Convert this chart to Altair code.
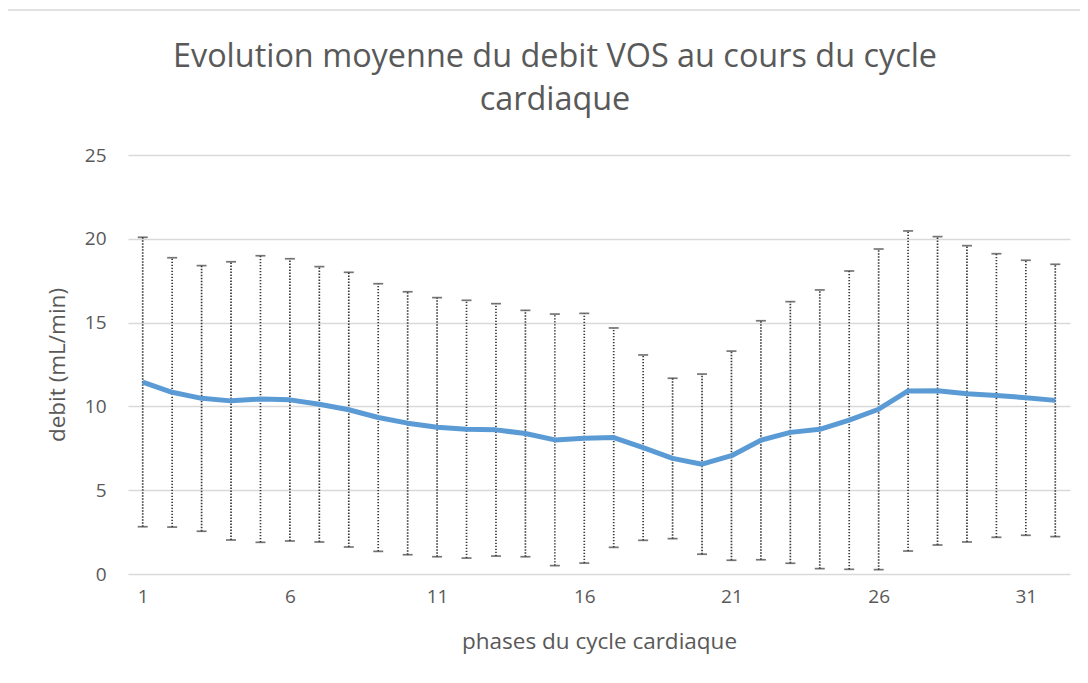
import altair as alt
import pandas as pd

phases = list(range(1, 33))
mean_flow = [11.45, 10.84, 10.48, 10.33, 10.44, 10.39, 10.13, 9.80, 9.34, 9.00,
             8.76, 8.64, 8.60, 8.38, 8.00, 8.10, 8.14, 7.54, 6.90, 6.55,
             7.06, 7.98, 8.45, 8.63, 9.18, 9.83, 10.92, 10.93, 10.75, 10.65,
             10.52, 10.36]
upper = [20.09, 18.87, 18.40, 18.63, 18.99, 18.81, 18.34, 18.00, 17.32, 16.84,
         16.49, 16.33, 16.13, 15.73, 15.51, 15.55, 14.68, 13.07, 11.68, 11.93,
         13.30, 15.11, 16.25, 16.95, 18.08, 19.39, 20.47, 20.13, 19.59, 19.11,
         18.72, 18.48]
lower = [2.82, 2.80, 2.55, 2.03, 1.89, 1.97, 1.91, 1.61, 1.35, 1.15,
         1.03, 0.95, 1.07, 1.03, 0.50, 0.65, 1.59, 2.01, 2.11, 1.18,
         0.82, 0.85, 0.64, 0.32, 0.28, 0.26, 1.37, 1.73, 1.91, 2.19,
         2.31, 2.23]
x_ticks = [1, 6, 11, 16, 21, 26, 31]
y_ticks = [0, 5, 10, 15, 20, 25]
title_lines = ["Evolution moyenne du debit VOS au cours du cycle", "cardiaque"]

df = pd.DataFrame({"phase": phases, "mean": mean_flow, "upper": upper, "lower": lower})

FONT = "Open Sans"
GREY = "#595959"

x = alt.X("phase:Q",
          scale=alt.Scale(domain=[0.5, 32.5], nice=False, zero=False),
          axis=alt.Axis(values=x_ticks, title="phases du cycle cardiaque",
                        grid=False, ticks=False, domain=False,
                        labelFontSize=19, labelColor=GREY, labelPadding=13,
                        titleFontSize=22.5, titleColor=GREY, titleFontWeight="normal",
                        titlePadding=24, labelFont=FONT, titleFont=FONT))
y_axis = alt.Axis(values=y_ticks, title="debit (mL/min)",
                  grid=True, gridColor="#d9d9d9", gridWidth=1.5,
                  ticks=False, domain=False,
                  labelFontSize=19, labelColor=GREY, labelPadding=22,
                  titleFontSize=22.5, titleColor=GREY, titleFontWeight="normal",
                  titlePadding=15, labelFont=FONT, titleFont=FONT)
yscale = alt.Scale(domain=[0, 25], nice=False)

base = alt.Chart(df)

ERR = "#3a3a3a"
bars = base.mark_rule(color=ERR, strokeWidth=1.7, strokeDash=[1.4, 1.6]).encode(
    x=x,
    y=alt.Y("lower:Q", scale=yscale, axis=y_axis),
    y2="upper:Q",
)
cap_top = base.mark_tick(color=ERR, size=10, thickness=1.7,
                         strokeDash=[1.4, 1.6], orient="horizontal").encode(
    x="phase:Q", y=alt.Y("upper:Q", scale=yscale))
cap_bot = base.mark_tick(color=ERR, size=10, thickness=1.7,
                         strokeDash=[1.4, 1.6], orient="horizontal").encode(
    x="phase:Q", y=alt.Y("lower:Q", scale=yscale))
line = base.mark_line(color="#5b9bd5", strokeWidth=5, strokeJoin="round").encode(
    x="phase:Q", y=alt.Y("mean:Q", scale=yscale))

one = pd.DataFrame({"a": [0]})
frame = alt.Chart(one).mark_rect(
    fill=None, stroke="#d9d9d9", strokeWidth=1.5, clip=False).encode(
    x=alt.value(-121), x2=alt.value(1000), y=alt.value(-145), y2=alt.value(700))

title1 = alt.Chart(one).mark_text(
    font=FONT, fontSize=32.4, color=GREY, align="center", baseline="alphabetic").encode(
    x=alt.value(427), y=alt.value(-88), text=alt.value(title_lines[0]))
title2 = alt.Chart(one).mark_text(
    font=FONT, fontSize=32.4, color=GREY, align="center", baseline="alphabetic").encode(
    x=alt.value(427), y=alt.value(-45), text=alt.value(title_lines[1]))

chart = alt.layer(frame, bars, cap_top, cap_bot, line, title1, title2).properties(
    width=942, height=419,
    autosize=alt.AutoSizeParams(type="none"),
    padding={"left": 120, "top": 147, "right": 10, "bottom": 110},
).configure_view(stroke=None)

chart.save("out.html", embed_options={"renderer": "svg", "actions": False})
